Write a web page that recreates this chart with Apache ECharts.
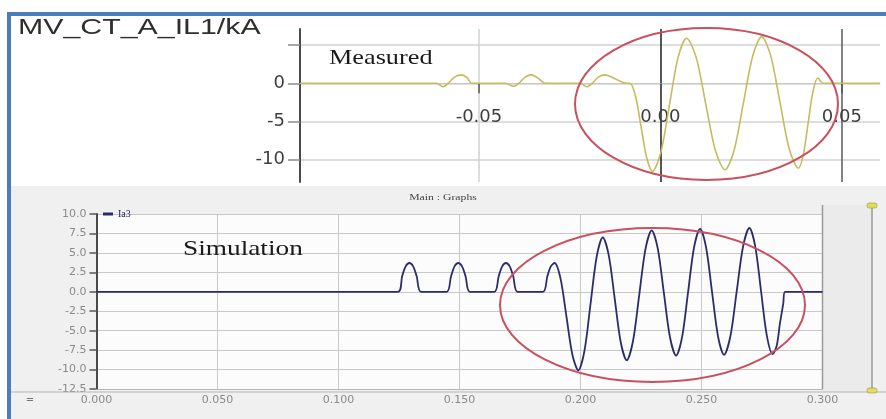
<!DOCTYPE html>
<html><head><meta charset="utf-8">
<script src="https://cdn.jsdelivr.net/npm/echarts@6.0.0/dist/echarts.min.js"></script>
<style>html,body{margin:0;padding:0;background:#fff}#c{width:886px;height:419px}</style>
</head><body><div id="c"></div>
<script>
// ---- Measured (top panel) ----
const measuredT = [-0.0993, -0.0617, -0.0599, -0.0583, -0.0566, -0.0548, -0.0532, -0.0520,
  -0.0428, -0.0405, -0.0388, -0.0372, -0.0355, -0.0335, -0.0318,
  -0.0222, -0.0203, -0.0186, -0.0170, -0.0153, -0.0125, -0.0093,
  -0.0084, -0.00685, -0.0053, -0.00375, -0.0022,
  0.00015, 0.0025, 0.00485, 0.0072,
  0.00985, 0.0125, 0.01515, 0.0178,
  0.0203, 0.02285, 0.02543, 0.0279,
  0.0304, 0.03295, 0.0355, 0.0380,
  0.03935, 0.0407, 0.04205, 0.0434, 0.0448, 0.0605];
const measuredV = [0, 0, -0.45, 0.1, 0.85, 1.1, 0.7, 0,
  0, -0.4, 0.1, 0.85, 1.1, 0.6, 0,
  0, -0.45, 0.1, 0.85, 1.1, 0.6, 0,
  0, -1.7, -5.75, -9.8, -11.5,
  -8.96, -2.8, 3.36, 5.9,
  3.39, -2.7, -8.79, -11.3,
  -8.76, -2.6, 3.56, 6.1,
  3.59, -2.5, -8.59, -11.1,
  -9.38, -5.2, -1.02, 0.7, 0, 0];
const topXTicks = [-0.05, 0, 0.05];
const topYTicks = [-10, -5, 0, 5];
const topYLabels = [-10, -5, 0];
const topYMin = -12.9, topYMax = 7.1;

// ---- Simulation (bottom panel) ----
const simT = [0, 0.1245, 0.1263, 0.1278, 0.1293, 0.1308, 0.1323, 0.1341,
  0.1447, 0.1465, 0.1480, 0.1495, 0.1510, 0.1525, 0.1543,
  0.1644, 0.1662, 0.1677, 0.1692, 0.1707, 0.1722, 0.1740,
  0.1845, 0.1863, 0.1878, 0.1893,
  0.19175, 0.1942, 0.19665, 0.1991,
  0.20163, 0.20415, 0.20668, 0.2092,
  0.21168, 0.21415, 0.21663, 0.2191,
  0.22168, 0.22425, 0.22683, 0.2294,
  0.23193, 0.23445, 0.23698, 0.2395,
  0.24198, 0.24445, 0.24693, 0.2494,
  0.25188, 0.25435, 0.25683, 0.2593,
  0.26193, 0.26455, 0.26718, 0.2698,
  0.2722, 0.2746, 0.2770, 0.2794,
  0.2811, 0.2824, 0.2838, 0.2845, 0.3];
const simV = [0, 0, 2.0, 3.3, 3.7, 3.3, 2.0, 0,
  0, 2.0, 3.3, 3.7, 3.3, 2.0, 0,
  0, 2.0, 3.3, 3.7, 3.3, 2.0, 0,
  0, 2.0, 3.3, 3.7,
  1.69, -3.2, -8.09, -10.1,
  -7.6, -1.55, 4.5, 7.0,
  4.69, -0.9, -6.49, -8.8,
  -6.36, -0.45, 5.46, 7.9,
  5.55, -0.15, -5.85, -8.2,
  -5.82, -0.05, 5.72, 8.1,
  5.73, 0, -5.73, -8.1,
  -5.72, 0.05, 5.82, 8.2,
  5.83, 0.1, -5.63, -8.0,
  -6.9, -4.1, -1.5, 0, 0];
const simName = 'Ia3';

const measuredData = measuredT.map((t, i) => [t, measuredV[i]]);
const simData = simT.map((t, i) => [t, simV[i]]);

const topGrid = {left: 300, top: 29, width: 580, height: 153};
// place the top x axis on the y = 0 line (offset from the grid bottom, computed from the y scale)
const topXOffset = -topGrid.height * (0 - topYMin) / (topYMax - topYMin);

const chart = echarts.init(document.getElementById('c'), null, {renderer: 'canvas'});
chart.setOption({
  animation: false,
  backgroundColor: '#ffffff',
  legend: {
    data: [simName], left: 98, top: 204, icon: 'rect', itemWidth: 10, itemHeight: 3, itemGap: 3,
    textStyle: {fontSize: 10, color: '#1d1d5a', fontFamily: 'Liberation Serif'}
  },
  grid: [
    Object.assign({outerBoundsMode: 'none', containLabel: false}, topGrid),
    {left: 96.5, top: 214, width: 726, height: 175, show: true, backgroundColor: '#fcfcfc', borderWidth: 0, outerBoundsMode: 'none', containLabel: false}
  ],
  xAxis: [
    {
      gridIndex: 0, type: 'value', min: -0.0993, max: 0.0605, position: 'bottom', offset: topXOffset,
      axisLine: {show: true, onZero: false, lineStyle: {color: '#c8c8c8', width: 1}},
      axisTick: {show: true, customValues: topXTicks, length: 10, lineStyle: {color: '#555', width: 1.5}},
      axisLabel: {customValues: topXTicks, formatter: v => v.toFixed(2), margin: 25, fontSize: 18, fontFamily: 'DejaVu Sans', color: '#3f3f3f'},
      splitLine: {show: true, lineStyle: {color: ['#d2d2d2', '#1e1e1e', '#5a5a5a'], width: 1.5}}
    },
    {
      gridIndex: 1, type: 'value', min: 0, max: 0.3, interval: 0.05,
      axisLine: {show: true, onZero: false, lineStyle: {color: '#b5b5b5'}},
      axisTick: {show: false},
      axisLabel: {formatter: v => v.toFixed(3), margin: 6, fontSize: 11, fontFamily: 'DejaVu Sans', color: '#8a8a8a', showMinLabel: true, showMaxLabel: true},
      splitLine: {show: true, lineStyle: {color: '#c9c9c9', width: 1}}
    }
  ],
  yAxis: [
    {
      gridIndex: 0, type: 'value', min: topYMin, max: topYMax,
      axisLine: {show: true, onZero: false, lineStyle: {color: '#4a4a4a', width: 2}},
      axisTick: {show: true, customValues: topYTicks, length: 12, lineStyle: {color: '#8a8a8a', width: 1.5}},
      axisLabel: {customValues: topYLabels, formatter: v => String(v), margin: 15, fontSize: 18, fontFamily: 'DejaVu Sans', color: '#3f3f3f'},
      splitLine: {show: true, lineStyle: {color: '#d2d2d2', width: 1.5}}
    },
    {
      gridIndex: 1, type: 'value', min: -12.5, max: 10, interval: 2.5,
      axisLine: {show: true, onZero: false, lineStyle: {color: '#4a4a4a', width: 2}},
      axisTick: {show: true, length: 7, lineStyle: {color: '#555', width: 1.5}},
      axisLabel: {formatter: v => v.toFixed(1), margin: 10, fontSize: 11, fontFamily: 'DejaVu Sans', color: '#8a8a8a', showMinLabel: true, showMaxLabel: true},
      splitLine: {show: true, lineStyle: {color: '#c9c9c9', width: 1}}
    }
  ],
  series: [
    {
      name: 'Measured', type: 'line', xAxisIndex: 0, yAxisIndex: 0, data: measuredData,
      showSymbol: false, smooth: 0.3,
      lineStyle: {color: '#c6bb5e', width: 1.6}, itemStyle: {color: '#c6bb5e'}, z: 5
    },
    {
      name: simName, type: 'line', xAxisIndex: 1, yAxisIndex: 1, data: simData,
      showSymbol: false, smooth: 0.3,
      lineStyle: {color: '#2c2c6c', width: 1.8}, itemStyle: {color: '#2c2c6c'}, z: 5
    }
  ],
  graphic: {
    elements: [
      {type: 'rect', shape: {x: 11, y: 186, width: 875, height: 233}, style: {fill: '#f0f0f0'}, z: -10, silent: true},
      {type: 'rect', shape: {x: 823, y: 205, width: 49, height: 187}, style: {fill: '#ebebeb'}, z: -9, silent: true},
      {type: 'line', shape: {x1: 822.5, y1: 205, x2: 822.5, y2: 389}, style: {stroke: '#9a9a9a', lineWidth: 1.5}, z: 3, silent: true},
      {type: 'line', shape: {x1: 872, y1: 205, x2: 872, y2: 392}, style: {stroke: '#9a9a9a', lineWidth: 1.5}, z: 3, silent: true},
      {type: 'rect', shape: {x: 867, y: 203, width: 10, height: 5, r: 2}, style: {fill: '#e4dc55', stroke: '#8a8a40', lineWidth: 0.5}, z: 4, silent: true},
      {type: 'rect', shape: {x: 867, y: 388, width: 10, height: 5, r: 2}, style: {fill: '#e4dc55', stroke: '#8a8a40', lineWidth: 0.5}, z: 4, silent: true},
      {type: 'line', shape: {x1: 11, y1: 392, x2: 886, y2: 392}, style: {stroke: '#b5b5b5', lineWidth: 1}, z: 3, silent: true},
      {type: 'text', x: 443, y: 198, scaleX: 1.3, style: {text: 'Main : Graphs', fontSize: 9, fontFamily: 'Liberation Serif', fill: '#444', align: 'center', verticalAlign: 'middle'}, z: 5, silent: true},
      {type: 'text', x: 30, y: 400, style: {text: '=', fontSize: 10, fontFamily: 'DejaVu Sans', fill: '#777', align: 'center', verticalAlign: 'middle'}, z: 5, silent: true},
      {type: 'text', x: 18, y: 28.5, scaleX: 1.41, style: {text: 'MV_CT_A_IL1/kA', fontSize: 21.5, fontFamily: 'Liberation Sans', fill: '#2e2e2e', verticalAlign: 'middle'}, z: 5, silent: true},
      {type: 'text', x: 329, y: 58, scaleX: 1.25, style: {text: 'Measured', fontSize: 21, fontFamily: 'Liberation Serif', fill: '#1a1a1a', verticalAlign: 'middle'}, z: 5, silent: true},
      {type: 'text', x: 183, y: 249, scaleX: 1.3, style: {text: 'Simulation', fontSize: 21, fontFamily: 'Liberation Serif', fill: '#1a1a1a', verticalAlign: 'middle'}, z: 5, silent: true},
      {type: 'ellipse', shape: {cx: 706.5, cy: 104, rx: 131.5, ry: 76}, style: {fill: null, stroke: '#c9505e', lineWidth: 2}, z: 50, silent: true},
      {type: 'ellipse', shape: {cx: 652.5, cy: 305, rx: 152.5, ry: 77}, style: {fill: null, stroke: '#c9505e', lineWidth: 2}, z: 50, silent: true},
      {type: 'rect', shape: {x: 7, y: 12, width: 879, height: 4}, style: {fill: '#4a7ebb'}, z: 60, silent: true},
      {type: 'rect', shape: {x: 7, y: 12, width: 4, height: 407}, style: {fill: '#4a7ebb'}, z: 60, silent: true}
    ]
  }
});
</script>
</body></html>
